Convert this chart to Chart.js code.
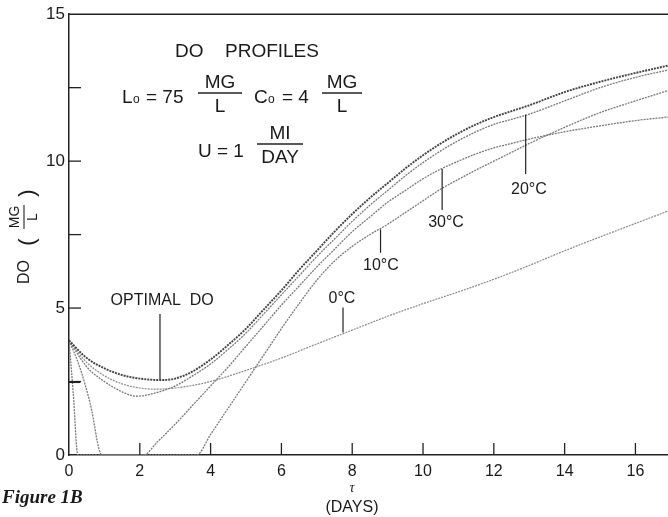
<!DOCTYPE html>
<html>
<head>
<meta charset="utf-8">
<script src="https://cdn.jsdelivr.net/npm/chart.js@4.4.0/dist/chart.umd.min.js"></script>
<style>
  html, body { margin: 0; padding: 0; background: #fff; }
  #wrap { width: 668px; height: 517px; }
</style>
</head>
<body>
<div id="wrap"><canvas id="doChart" width="668" height="517"></canvas></div>
<script>
// tau in days, DO in mg/L
const tauOptimal = [0, 0.5, 1, 1.5, 2, 2.6, 3, 3.5, 4, 4.5, 5, 5.5, 6, 6.5, 7, 7.5, 8, 8.5, 9, 9.5, 10, 10.5, 11, 11.5, 12, 12.5, 13, 14, 15, 16, 16.92];
const doOptimal = [3.9, 3.3, 2.95, 2.72, 2.6, 2.55, 2.6, 2.85, 3.25, 3.75, 4.3, 4.95, 5.6, 6.3, 6.95, 7.6, 8.2, 8.75, 9.25, 9.75, 10.2, 10.6, 10.95, 11.25, 11.5, 11.7, 11.9, 12.35, 12.7, 13.0, 13.25];

const tau20 = [0, 0.5, 1, 1.5, 1.9, 2.4, 3, 3.5, 4, 4.5, 5, 5.5, 6, 6.5, 7, 7.5, 8, 8.5, 9, 9.5, 10, 10.5, 11, 11.5, 12, 12.5, 13, 14, 15, 16, 16.92];
const do20 = [3.9, 3.0, 2.5, 2.15, 2.0, 2.1, 2.35, 2.7, 3.1, 3.6, 4.15, 4.8, 5.45, 6.1, 6.75, 7.35, 7.95, 8.5, 9.0, 9.5, 9.95, 10.35, 10.7, 11.0, 11.25, 11.42, 11.6, 12.05, 12.5, 12.85, 13.1];

const tau0 = [0, 0.5, 1, 1.5, 2, 2.5, 3, 3.5, 4, 5, 6, 7, 8, 9, 10, 11, 12, 13, 14, 15, 16, 16.92];
const do0 = [3.9, 3.15, 2.7, 2.42, 2.28, 2.24, 2.28, 2.37, 2.5, 2.88, 3.3, 3.78, 4.25, 4.72, 5.15, 5.55, 5.98, 6.45, 6.95, 7.42, 7.88, 8.3];

const tau30 = [0, 0.3, 0.6, 0.93, 2.1, 2.5, 3, 3.5, 4, 4.5, 5, 5.5, 6, 6.5, 7, 7.5, 8, 8.5, 9, 9.5, 10, 10.5, 11, 11.5, 12, 12.5, 13, 14, 15, 16, 16.92];
const do30 = [3.9, 3.0, 1.75, 0, 0, 0.45, 1.05, 1.7, 2.35, 3.0, 3.7, 4.4, 5.1, 5.75, 6.4, 7.0, 7.6, 8.1, 8.6, 9.0, 9.4, 9.73, 10.0, 10.25, 10.45, 10.6, 10.75, 11.0, 11.2, 11.38, 11.5];

const tau10 = [0, 0.12, 0.25, 3.6, 4, 4.5, 5, 5.5, 6, 6.5, 7, 7.5, 8, 8.5, 9, 9.5, 10, 10.5, 11, 11.5, 12, 12.5, 13, 14, 15, 16, 16.92];
const do10 = [3.9, 2.1, 0, 0, 0.7, 1.6, 2.5, 3.4, 4.3, 5.15, 5.95, 6.6, 7.1, 7.5, 7.85, 8.25, 8.65, 9.05, 9.38, 9.7, 10.0, 10.3, 10.6, 11.15, 11.65, 12.05, 12.4];

const xTicks = [0, 2, 4, 6, 8, 10, 12, 14, 16];
const yTicks = [0, 5, 10, 15];

const SANS = "'Liberation Sans', Arial, sans-serif";

function toPoints(xs, ys) {
  return xs.map((x, i) => ({ x: x, y: ys[i] }));
}

function curve(label, xs, ys, color, width) {
  return {
    label: label,
    data: toPoints(xs, ys),
    borderColor: color,
    borderWidth: width,
    borderDash: [2, 1],
    pointRadius: 0,
    fill: false,
    cubicInterpolationMode: "monotone",
  };
}

// pointer lines + labels, in data units
const pointers = [
  { text: "OPTIMAL  DO", x: 2.57, y1: 2.58, y2: 4.8, lx: 2.63, ly: 5.25 },
  { text: "0°C", x: 7.74, y1: 4.17, y2: 5.02, lx: 7.71, ly: 5.32 },
  { text: "10°C", x: 8.8, y1: 7.68, y2: 6.88, lx: 8.81, ly: 6.44 },
  { text: "30°C", x: 10.54, y1: 9.73, y2: 8.34, lx: 10.65, ly: 7.9 },
  { text: "20°C", x: 12.9, y1: 11.58, y2: 9.56, lx: 12.99, ly: 9.02 },
];

function fraction(ctx, num, den, cx, barY, halfW, font) {
  ctx.font = font;
  ctx.textAlign = "center";
  ctx.textBaseline = "alphabetic";
  ctx.fillText(num, cx, barY - 5);
  ctx.fillText(den, cx, barY + 19);
  ctx.beginPath();
  ctx.moveTo(cx - halfW, barY);
  ctx.lineTo(cx + halfW, barY);
  ctx.lineWidth = 1.3;
  ctx.stroke();
}

const decorations = {
  id: "decorations",
  afterDraw(chart) {
    const ctx = chart.ctx;
    const xs = chart.scales.x;
    const ys = chart.scales.y;
    const area = chart.chartArea;
    ctx.save();
    ctx.strokeStyle = "#222";
    ctx.fillStyle = "#1a1a1a";

    // top frame line
    ctx.lineWidth = 1.5;
    ctx.beginPath();
    ctx.moveTo(area.left, ys.getPixelForValue(15));
    ctx.lineTo(area.right, ys.getPixelForValue(15));
    ctx.stroke();

    // inward tick marks
    ctx.lineWidth = 1.3;
    [2.5, 5, 7.5, 10, 12.5].forEach((v) => {
      const py = ys.getPixelForValue(v);
      ctx.beginPath();
      ctx.moveTo(area.left, py);
      ctx.lineTo(area.left + 12, py);
      ctx.stroke();
    });
    xTicks.slice(1).forEach((v) => {
      const px = xs.getPixelForValue(v);
      ctx.beginPath();
      ctx.moveTo(px, area.bottom);
      ctx.lineTo(px, area.bottom - 12);
      ctx.stroke();
    });
    // small mark on the axis near the start
    ctx.beginPath();
    ctx.moveTo(xs.getPixelForValue(0), ys.getPixelForValue(2.47));
    ctx.lineTo(xs.getPixelForValue(0.32), ys.getPixelForValue(2.47));
    ctx.stroke();

    // pointers and their labels
    ctx.lineWidth = 1.2;
    ctx.font = "16px " + SANS;
    ctx.textAlign = "center";
    ctx.textBaseline = "middle";
    pointers.forEach((p) => {
      const px = xs.getPixelForValue(p.x);
      ctx.beginPath();
      ctx.moveTo(px, ys.getPixelForValue(p.y1));
      ctx.lineTo(px, ys.getPixelForValue(p.y2));
      ctx.stroke();
      ctx.fillText(p.text, xs.getPixelForValue(p.lx), ys.getPixelForValue(p.ly));
    });

    // header block
    const big = "19px " + SANS;
    ctx.font = big;
    ctx.textAlign = "left";
    ctx.textBaseline = "alphabetic";
    ctx.fillText("DO", 175, 57);
    ctx.fillText("PROFILES", 225, 57);

    ctx.fillText("L", 122, 103);
    ctx.font = "12px " + SANS;
    ctx.fillText("o", 133, 103);
    ctx.font = big;
    ctx.fillText("= 75", 146, 103);
    fraction(ctx, "MG", "L", 220, 93, 22, big);
    ctx.textAlign = "left";
    ctx.fillText("C", 254, 103);
    ctx.font = "12px " + SANS;
    ctx.fillText("o", 268, 103);
    ctx.font = big;
    ctx.fillText("= 4", 282, 103);
    fraction(ctx, "MG", "L", 342, 93, 20, big);

    ctx.textAlign = "left";
    ctx.fillText("U = 1", 198, 157);
    fraction(ctx, "MI", "DAY", 280, 144, 23, big);

    // x axis title
    ctx.textAlign = "center";
    ctx.font = "italic 14px 'Liberation Serif', serif";
    ctx.fillText("τ", 352, 492);
    ctx.font = "16px " + SANS;
    ctx.fillText("(DAYS)", 352, 512);

    // y axis title, rotated
    ctx.translate(25, 272);
    ctx.rotate(-Math.PI / 2);
    ctx.textBaseline = "middle";
    ctx.font = "16px " + SANS;
    ctx.fillText("DO", 0, 0);
    ctx.font = "22px " + SANS;
    ctx.fillText("(", 30, 3);
    ctx.fillText(")", 79, 3);
    ctx.font = "14px " + SANS;
    ctx.fillText("MG", 55, -10);
    ctx.fillText("L", 55, 8);
    ctx.beginPath();
    ctx.moveTo(43, -1);
    ctx.lineTo(67, -1);
    ctx.lineWidth = 1.1;
    ctx.stroke();
    ctx.setTransform(1, 0, 0, 1, 0, 0);

    // caption
    ctx.textAlign = "left";
    ctx.textBaseline = "alphabetic";
    ctx.font = "italic bold 19px 'Liberation Serif', 'DejaVu Serif', serif";
    ctx.fillText("Figure 1B", 2, 503);
    ctx.restore();
  },
};

new Chart(document.getElementById("doChart"), {
  type: "line",
  data: {
    datasets: [
      curve("Optimal DO", tauOptimal, doOptimal, "#444444", 1.9),
      curve("20°C", tau20, do20, "#7a7a7a", 1.3),
      curve("0°C", tau0, do0, "#8a8a8a", 1.2),
      curve("30°C", tau30, do30, "#7a7a7a", 1.3),
      curve("10°C", tau10, do10, "#7a7a7a", 1.3),
    ],
  },
  options: {
    responsive: false,
    animation: false,
    devicePixelRatio: 1,
    layout: { padding: { top: 13, right: 0, left: 0, bottom: 0 } },
    plugins: {
      legend: { display: false },
      tooltip: { enabled: false },
    },
    scales: {
      x: {
        type: "linear",
        min: 0,
        max: 16.92,
        afterFit: (scale) => { scale.height = 62; },
        afterBuildTicks: (scale) => { scale.ticks = xTicks.map((v) => ({ value: v })); },
        ticks: { color: "#1a1a1a", font: { family: SANS, size: 16 }, padding: 7, maxRotation: 0 },
        grid: { drawOnChartArea: false, drawTicks: false },
        border: { display: true, color: "#222", width: 1.5 },
      },
      y: {
        min: 0,
        max: 15,
        afterFit: (scale) => { scale.width = 69; },
        afterBuildTicks: (scale) => { scale.ticks = yTicks.map((v) => ({ value: v })); },
        ticks: { color: "#1a1a1a", font: { family: SANS, size: 17 }, padding: 4 },
        grid: { drawOnChartArea: false, drawTicks: false },
        border: { display: true, color: "#222", width: 1.5 },
      },
    },
  },
  plugins: [decorations],
});
</script>
</body>
</html>
